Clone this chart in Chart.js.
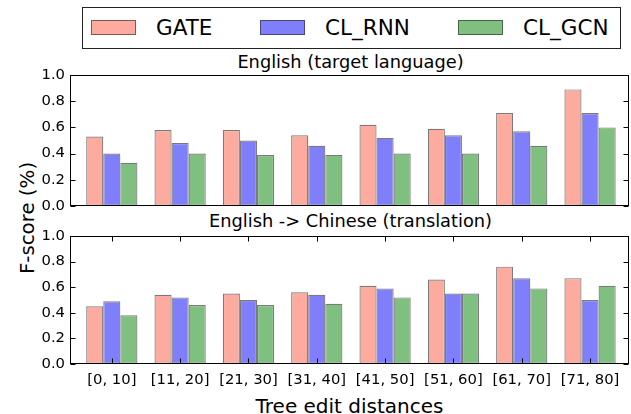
<!DOCTYPE html>
<html>
<head>
<meta charset="utf-8">
<script src="https://cdn.jsdelivr.net/npm/chart.js@4.4.1/dist/chart.umd.min.js"></script>
<style>
  html, body { margin: 0; padding: 0; background: #fff; }
  body { width: 631px; height: 414px; position: relative; overflow: hidden; font-family: "DejaVu Sans", sans-serif; color: #000; }
  canvas { position: absolute; left: 0; }
  .txt { position: absolute; white-space: nowrap; line-height: 1; }
  .ctr { transform: translateX(-50%); }
  #legend { position: absolute; left: 82px; top: 7px; width: 539px; height: 42px; border: 1px solid #222; box-sizing: border-box; }
  .patch { position: absolute; width: 45px; height: 15px; box-sizing: border-box; top: 12px; }
  .ltxt { position: absolute; font-size: 21.5px; line-height: 1; top: 8.8px; white-space: nowrap; }
</style>
</head>
<body>
<div id="legend"></div>
<div class="txt ctr" style="left:350.5px; top:52.9px; font-size:17.8px;">English (target language)</div>
<div class="txt ctr" style="left:350.5px; top:212.4px; font-size:17.8px;">English -&gt; Chinese (translation)</div>
<div class="txt" style="left:27.9px; top:218px; font-size:19.8px; transform: translate(-50%,-50%) rotate(-90deg);">F-score (%)</div>
<div class="txt ctr" style="left:349.5px; top:396px; font-size:20px;">Tree edit distances</div>
<canvas id="c1" width="631" height="160" style="top:60px"></canvas>
<canvas id="c2" width="631" height="192" style="top:222px"></canvas>
<script>
// ---- data ----
const categories = ['[0, 10]', '[11, 20]', '[21, 30]', '[31, 40]', '[41, 50]', '[51, 60]', '[61, 70]', '[71, 80]'];
const seriesNames = ['GATE', 'CL_RNN', 'CL_GCN'];
const englishGATE  = [0.53, 0.58, 0.58, 0.54, 0.62, 0.59, 0.71, 0.89];
const englishRNN   = [0.40, 0.48, 0.50, 0.46, 0.52, 0.54, 0.57, 0.71];
const englishGCN   = [0.33, 0.40, 0.39, 0.39, 0.40, 0.40, 0.46, 0.60];
const chineseGATE  = [0.45, 0.54, 0.55, 0.56, 0.61, 0.66, 0.76, 0.67];
const chineseRNN   = [0.49, 0.52, 0.50, 0.54, 0.59, 0.55, 0.67, 0.50];
const chineseGCN   = [0.38, 0.46, 0.46, 0.47, 0.52, 0.55, 0.59, 0.61];
const yTickValues  = [0.0, 0.2, 0.4, 0.6, 0.8, 1.0];

// ---- styles ----
const fills = ['#fdab9f', '#7f7ffc', '#7fbf7f'];
const edgeColor = 'rgba(40,40,40,0.62)';
const FONT = 'DejaVu Sans';

// legend
const legendPatchX = [8, 177, 375];
const legend = document.getElementById('legend');
seriesNames.forEach((name, i) => {
  const p = document.createElement('div');
  p.className = 'patch';
  p.style.left = legendPatchX[i] + 'px';
  p.style.background = fills[i];
  p.style.border = '1px solid ' + edgeColor;
  legend.appendChild(p);
  const t = document.createElement('div');
  t.className = 'ltxt';
  t.style.left = (legendPatchX[i] + 65) + 'px';
  t.textContent = name;
  legend.appendChild(t);
});

const framePlugin = {
  id: 'frame',
  afterDatasetsDraw(chart, args, opts) {
    const ctx = chart.ctx, a = chart.chartArea;
    const ys = chart.scales.y, xs = chart.scales.x;
    ctx.save();
    ctx.strokeStyle = '#000';
    ctx.lineWidth = 1;
    ctx.beginPath();
    const L = Math.round(a.left) + 0.5, R = Math.round(a.right) - 0.5;
    const T = Math.round(a.top) + 0.5, B = Math.round(a.bottom) - 0.5;
    ys.ticks.forEach(t => {
      const p = Math.round(ys.getPixelForValue(t.value)) + 0.5;
      ctx.moveTo(L, p); ctx.lineTo(L + 5, p);
      ctx.moveTo(R, p); ctx.lineTo(R - 5, p);
    });
    if (opts.xTicks) {
      xs.ticks.forEach(t => {
        const p = Math.round(xs.getPixelForValue(t.value)) + 0.5;
        ctx.moveTo(p, T); ctx.lineTo(p, T + 5);
        ctx.moveTo(p, B); ctx.lineTo(p, B - 5);
      });
    }
    ctx.stroke();
    ctx.strokeRect(L, T, R - L, B - T);
    ctx.restore();
  }
};

function makeChart(id, vals, showX, pad) {
  return new Chart(document.getElementById(id), {
    type: 'bar',
    data: {
      datasets: vals.map((arr, i) => ({
        label: seriesNames[i],
        data: arr.map((v, k) => ({ x: k, y: v })),
        backgroundColor: fills[i],
        borderColor: edgeColor,
        borderWidth: 1.2,
        borderSkipped: false,
        inflateAmount: 0,
        categoryPercentage: 0.75,
        barPercentage: 1.0
      }))
    },
    options: {
      responsive: false,
      animation: false,
      events: [],
      layout: { padding: pad },
      plugins: { legend: { display: false }, tooltip: { enabled: false }, title: { display: false }, frame: { xTicks: showX } },
      scales: {
        x: {
          type: 'linear', min: -0.612, max: 7.57, offset: false,
          grid: { display: false, drawTicks: false }, border: { display: false },
          ticks: {
            display: showX, stepSize: 1, includeBounds: false, autoSkip: false, maxRotation: 0, minRotation: 0,
            padding: 7, color: '#000', font: { family: FONT, size: 14.8 },
            callback: v => (Number.isInteger(v) && categories[v] !== undefined) ? categories[v] : ''
          },
          afterFit: s => { s.height = showX ? 50 : 0; }
        },
        y: {
          min: 0, max: 1,
          grid: { display: false, drawTicks: false }, border: { display: false },
          afterBuildTicks: s => { s.ticks = yTickValues.map(v => ({ value: v })); },
          ticks: { padding: 5, color: '#000', font: { family: FONT, size: 14.8 }, callback: v => Number(v).toFixed(1) },
          afterFit: s => { s.width = 70; }
        }
      }
    },
    plugins: [framePlugin]
  });
}

makeChart('c1', [englishGATE, englishRNN, englishGCN], false, { top: 15, right: 2, bottom: 14, left: 0 });
makeChart('c2', [chineseGATE, chineseRNN, chineseGCN], true, { top: 10, right: 2, bottom: 0, left: 0 });
</script>
</body>
</html>
